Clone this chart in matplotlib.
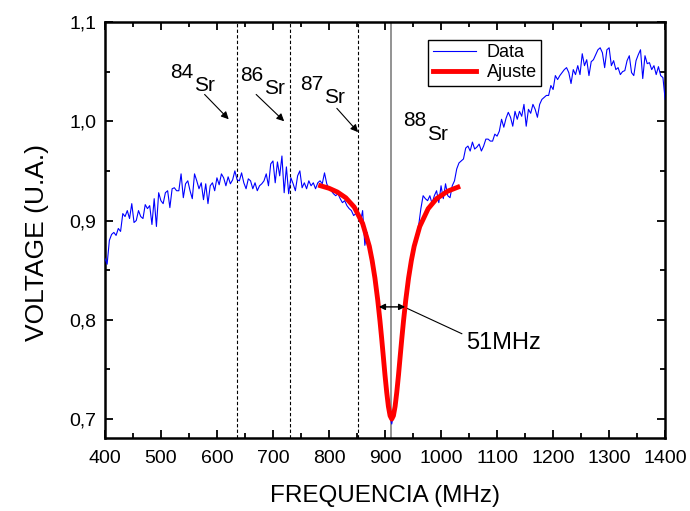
import numpy as np
import matplotlib
matplotlib.use('Agg')
import matplotlib.pyplot as plt
from matplotlib.ticker import MultipleLocator, FuncFormatter

plt.rcParams['font.family'] = ['Liberation Sans', 'DejaVu Sans']

# measured signal, one value every 4 MHz from 400 to 1400 MHz
freq_start = 400
freq_step = 4
voltage = [
    0.862, 0.856, 0.880, 0.886, 0.888, 0.885, 0.892, 0.889, 0.907, 0.904, 0.910, 0.902, 0.917,
    0.898, 0.900, 0.910, 0.904, 0.902, 0.916, 0.912, 0.915, 0.896, 0.922, 0.894, 0.928,
    0.920, 0.917, 0.928, 0.930, 0.913, 0.932, 0.933, 0.930, 0.930, 0.947, 0.923, 0.937, 0.940,
    0.930, 0.922, 0.947, 0.940, 0.932, 0.938, 0.921, 0.937, 0.917, 0.935, 0.938, 0.930,
    0.943, 0.936, 0.947, 0.943, 0.935, 0.944, 0.937, 0.941, 0.950, 0.941, 0.940, 0.948, 0.938,
    0.932, 0.942, 0.940, 0.932, 0.938, 0.930, 0.935, 0.937, 0.940, 0.947, 0.935, 0.957,
    0.960, 0.938, 0.959, 0.945, 0.965, 0.928, 0.954, 0.927, 0.943, 0.937, 0.930, 0.945, 0.950,
    0.933, 0.938, 0.932, 0.940, 0.935, 0.938, 0.932, 0.938, 0.940, 0.937, 0.948, 0.937,
    0.932, 0.930, 0.927, 0.925, 0.927, 0.922, 0.918, 0.920, 0.915, 0.912, 0.910, 0.905, 0.907,
    0.903, 0.898, 0.910, 0.875, 0.888, 0.870, 0.862, 0.850, 0.835, 0.815, 0.795, 0.770,
    0.745, 0.722, 0.706, 0.695, 0.708, 0.724, 0.748, 0.770, 0.792, 0.812, 0.830, 0.848, 0.858,
    0.870, 0.885, 0.895, 0.912, 0.925, 0.922, 0.920, 0.925, 0.917, 0.925, 0.930, 0.918,
    0.935, 0.922, 0.937, 0.925, 0.923, 0.935, 0.940, 0.952, 0.958, 0.960, 0.962, 0.973, 0.975,
    0.970, 0.979, 0.972, 0.974, 0.977, 0.970, 0.975, 0.982, 0.982, 0.980, 0.980, 0.987,
    0.985, 0.990, 1.002, 0.994, 1.003, 1.009, 1.004, 0.995, 1.010, 1.002, 1.010, 1.005, 1.017,
    0.995, 1.012, 1.008, 1.017, 1.012, 1.004, 1.017, 1.022, 1.024, 1.026, 1.026, 1.036,
    1.032, 1.046, 1.042, 1.046, 1.049, 1.052, 1.054, 1.049, 1.038, 1.052, 1.047, 1.056, 1.047,
    1.068, 1.056, 1.062, 1.046, 1.060, 1.062, 1.067, 1.072, 1.074, 1.069, 1.054, 1.072,
    1.074, 1.056, 1.061, 1.052, 1.054, 1.047, 1.050, 1.051, 1.061, 1.066, 1.049, 1.046, 1.061,
    1.067, 1.072, 1.043, 1.066, 1.058, 1.059, 1.052, 1.056, 1.047, 1.055, 1.046, 1.044, 1.022,
]
freq = freq_start + freq_step * np.arange(len(voltage))

# fitted curve (Lorentzian dip)
fit_freq = [785, 800, 815, 830, 845, 860, 872, 877, 882, 887, 891, 894, 897, 900, 903, 906, 909,
            912, 915, 918, 921, 924, 927, 930, 933, 937, 942, 947, 952, 962, 977, 992, 1012, 1030]
fit_volt = [0.935, 0.9325, 0.9287, 0.9229, 0.9136, 0.8971, 0.874, 0.8597, 0.842, 0.8198,
            0.7988, 0.7813, 0.7628, 0.744, 0.7271, 0.7128, 0.7034, 0.700, 0.7034, 0.7128,
            0.7271, 0.744, 0.7628, 0.7813, 0.7988, 0.8198, 0.842, 0.8597, 0.874, 0.894,
            0.9119, 0.922, 0.9296, 0.9336]

# isotope markers
isotopes = ['84', '86', '87']
isotope_freq = [635, 730, 852]
main_freq = 911
fwhm_left, fwhm_right, fwhm_level = 889, 936, 0.813

fig = plt.figure(figsize=(6.9, 5.11), dpi=100)
ax = fig.add_axes([0.152, 0.143, 0.812, 0.814])

ax.plot(freq, voltage, color='#0000ff', lw=0.8, label='Data', zorder=3)
ax.plot(fit_freq, fit_volt, color='#ff0000', lw=3.5, label='Ajuste', zorder=4)

for f in isotope_freq:
    ax.axvline(f, color='black', lw=0.8, ls=(0, (3, 2)), zorder=1)
ax.axvline(main_freq, color='#808080', lw=1.2, zorder=2)

# isotope labels with arrows (number raised, "Sr" below it)
label_pos = [(516, 1.049), (641, 1.046), (748, 1.037)]
arrow_pos = [((578, 1.027), (621, 1.002)), ((670, 1.027), (720, 1.000)),
             ((814, 1.013), (852, 0.989))]
for iso, (lx, ly), (a0, a1) in zip(isotopes, label_pos, arrow_pos):
    ax.text(lx, ly, iso, fontsize=15, ha='left', va='center')
    ax.text(lx + 43, ly - 0.013, 'Sr', fontsize=15, ha='left', va='center')
    ax.annotate('', xy=a1, xytext=a0,
                arrowprops=dict(arrowstyle='-|>', color='black', lw=0.8,
                                mutation_scale=11, shrinkA=0, shrinkB=0))
ax.text(933, 1.001, '88', fontsize=15, ha='left', va='center')
ax.text(975, 0.987, 'Sr', fontsize=15, ha='left', va='center')

# width of the dip
ax.annotate('', xy=(fwhm_left, fwhm_level), xytext=(fwhm_right, fwhm_level),
            arrowprops=dict(arrowstyle='<|-|>', color='black', lw=1.0,
                            mutation_scale=9, shrinkA=0, shrinkB=0), zorder=5)
ax.plot([937.5, 1037], [0.812, 0.786], color='black', lw=0.8)
ax.text(1044, 0.777, '51MHz', fontsize=17, ha='left', va='center')

ax.set_xlim(400, 1400)
ax.set_ylim(0.681, 1.1)
ax.xaxis.set_major_locator(MultipleLocator(100))
ax.xaxis.set_minor_locator(MultipleLocator(50))
ax.yaxis.set_major_locator(MultipleLocator(0.1))
ax.yaxis.set_minor_locator(MultipleLocator(0.05))
ax.yaxis.set_major_formatter(FuncFormatter(lambda v, p: f'{v:.1f}'.replace('.', ',')))

ax.tick_params(which='both', direction='in', top=True, right=True, width=1.3, labelsize=14)
ax.tick_params(axis='x', which='major', length=6, pad=9)
ax.tick_params(axis='y', which='major', length=6, pad=6)
ax.tick_params(which='minor', length=3.5)
for s in ax.spines.values():
    s.set_linewidth(1.8)

ax.set_xlabel('FREQUENCIA (MHz)', fontsize=17.5, labelpad=13)
ax.set_ylabel('VOLTAGE (U.A.)', fontsize=19, labelpad=10)
ax.yaxis.set_label_coords(-0.1, 0.47)

leg = ax.legend(loc='upper left', bbox_to_anchor=(0.577, 0.957), borderaxespad=0,
                fontsize=13, handlelength=2.4, handletextpad=0.6, borderpad=0.25,
                labelspacing=0.15, fancybox=False, framealpha=1)
leg.get_frame().set_edgecolor('black')
leg.get_frame().set_linewidth(1.0)

fig.savefig('out.png', dpi=100)
